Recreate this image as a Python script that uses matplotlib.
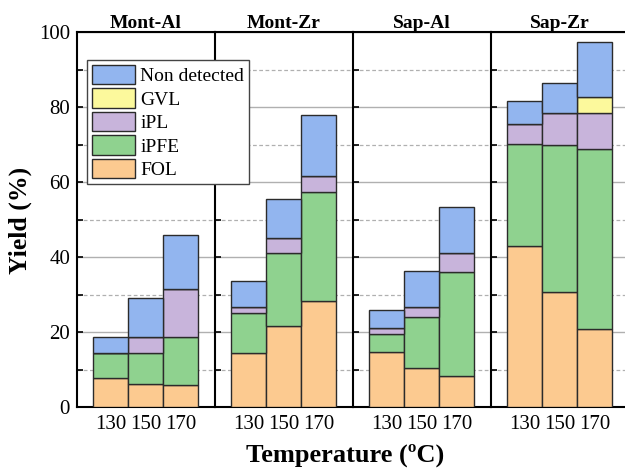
import numpy as np
import matplotlib.pyplot as plt
from matplotlib.patches import Patch

plt.rcParams['font.family'] = ['Liberation Serif', 'DejaVu Serif']

catalysts = ['Mont-Al', 'Mont-Zr', 'Sap-Al', 'Sap-Zr']
temperatures = ['130', '150', '170']

# yields (%) per catalyst, at 130 / 150 / 170 C
fol = [[7.8, 6.1, 5.8], [14.5, 21.6, 28.4], [14.7, 10.3, 8.3], [42.9, 30.7, 20.9]]
ipfe = [[6.7, 8.2, 12.8], [10.5, 19.6, 28.9], [4.7, 13.6, 27.6], [27.2, 39.1, 47.8]]
ipl = [[0.0, 4.5, 13.0], [1.8, 3.8, 4.3], [1.7, 2.9, 5.1], [5.4, 8.5, 9.8]]
gvl = [[0.0, 0.0, 0.0], [0.0, 0.0, 0.0], [0.0, 0.0, 0.0], [0.0, 0.0, 4.1]]
non_detected = [[4.2, 10.2, 14.4], [6.9, 10.4, 16.2], [4.7, 9.6, 12.4], [6.1, 8.2, 14.8]]

series = [('FOL', fol, '#fcca90'),
          ('iPFE', ipfe, '#8fd28f'),
          ('iPL', ipl, '#c8b4db'),
          ('GVL', gvl, '#fcf99c'),
          ('Non detected', non_detected, '#92b5ef')]

fig = plt.figure(figsize=(6.25, 4.70), dpi=100)

left = 77 / 625
width = 138 / 625
bottom = 1 - 407 / 470
height = (407 - 32) / 470

x = np.arange(3)
for i, cat in enumerate(catalysts):
    ax = fig.add_axes([left + i * width, bottom, width, height])
    base = np.zeros(3)
    for name, data, color in series:
        vals = np.array(data[i])
        ax.bar(x, vals, width=1.0, bottom=base, color=color,
               edgecolor='#2b2b2b', linewidth=1.0, zorder=3)
        base += vals
    ax.set_xlim(-0.96, 2.98)
    ax.set_ylim(0, 100)
    ax.set_yticks(np.arange(0, 101, 20))
    ax.set_yticks(np.arange(10, 100, 20), minor=True)
    ax.grid(True, which='major', axis='y', color='#b0b0b0', linewidth=1.0, zorder=0)
    ax.grid(True, which='minor', axis='y', color='#b0b0b0', linewidth=0.9,
            linestyle=(0, (3, 2)), zorder=0)
    ax.tick_params(axis='y', which='both', direction='in', length=4, width=1.2, pad=5)
    ax.tick_params(axis='x', length=0, pad=6)
    ax.set_xticks(x)
    ax.set_xticklabels(temperatures, fontsize=15)
    if i == 0:
        ax.set_yticklabels([str(v) for v in range(0, 101, 20)], fontsize=15)
    else:
        ax.set_yticklabels([])
    for s in ax.spines.values():
        s.set_linewidth(1.5)
        s.set_color('black')
    ax.spines['right'].set_visible(False)
    ax.set_title(cat, fontsize=14, fontweight='bold', pad=2)

handles = [Patch(facecolor=c, edgecolor='#2b2b2b', linewidth=1.0, label=n)
           for n, d, c in series[::-1]]
fig.legend(handles=handles, loc='upper left',
           bbox_to_anchor=(87 / 625, 1 - 60 / 470), fontsize=14,
           handlelength=2.2, handleheight=1.15, labelspacing=0.17,
           handletextpad=0.3, borderpad=0.25, borderaxespad=0,
           fancybox=False, framealpha=1, edgecolor='#444444')

fig.text(20 / 625, 1 - 220 / 470, 'Yield (%)', rotation=90, fontsize=18.5,
         fontweight='bold', ha='center', va='center')
fig.text(345 / 625, 1 - 455 / 470, 'Temperature (ºC)', fontsize=19,
         fontweight='bold', ha='center', va='center')

plt.savefig('out.png', dpi=100)
plt.close()
